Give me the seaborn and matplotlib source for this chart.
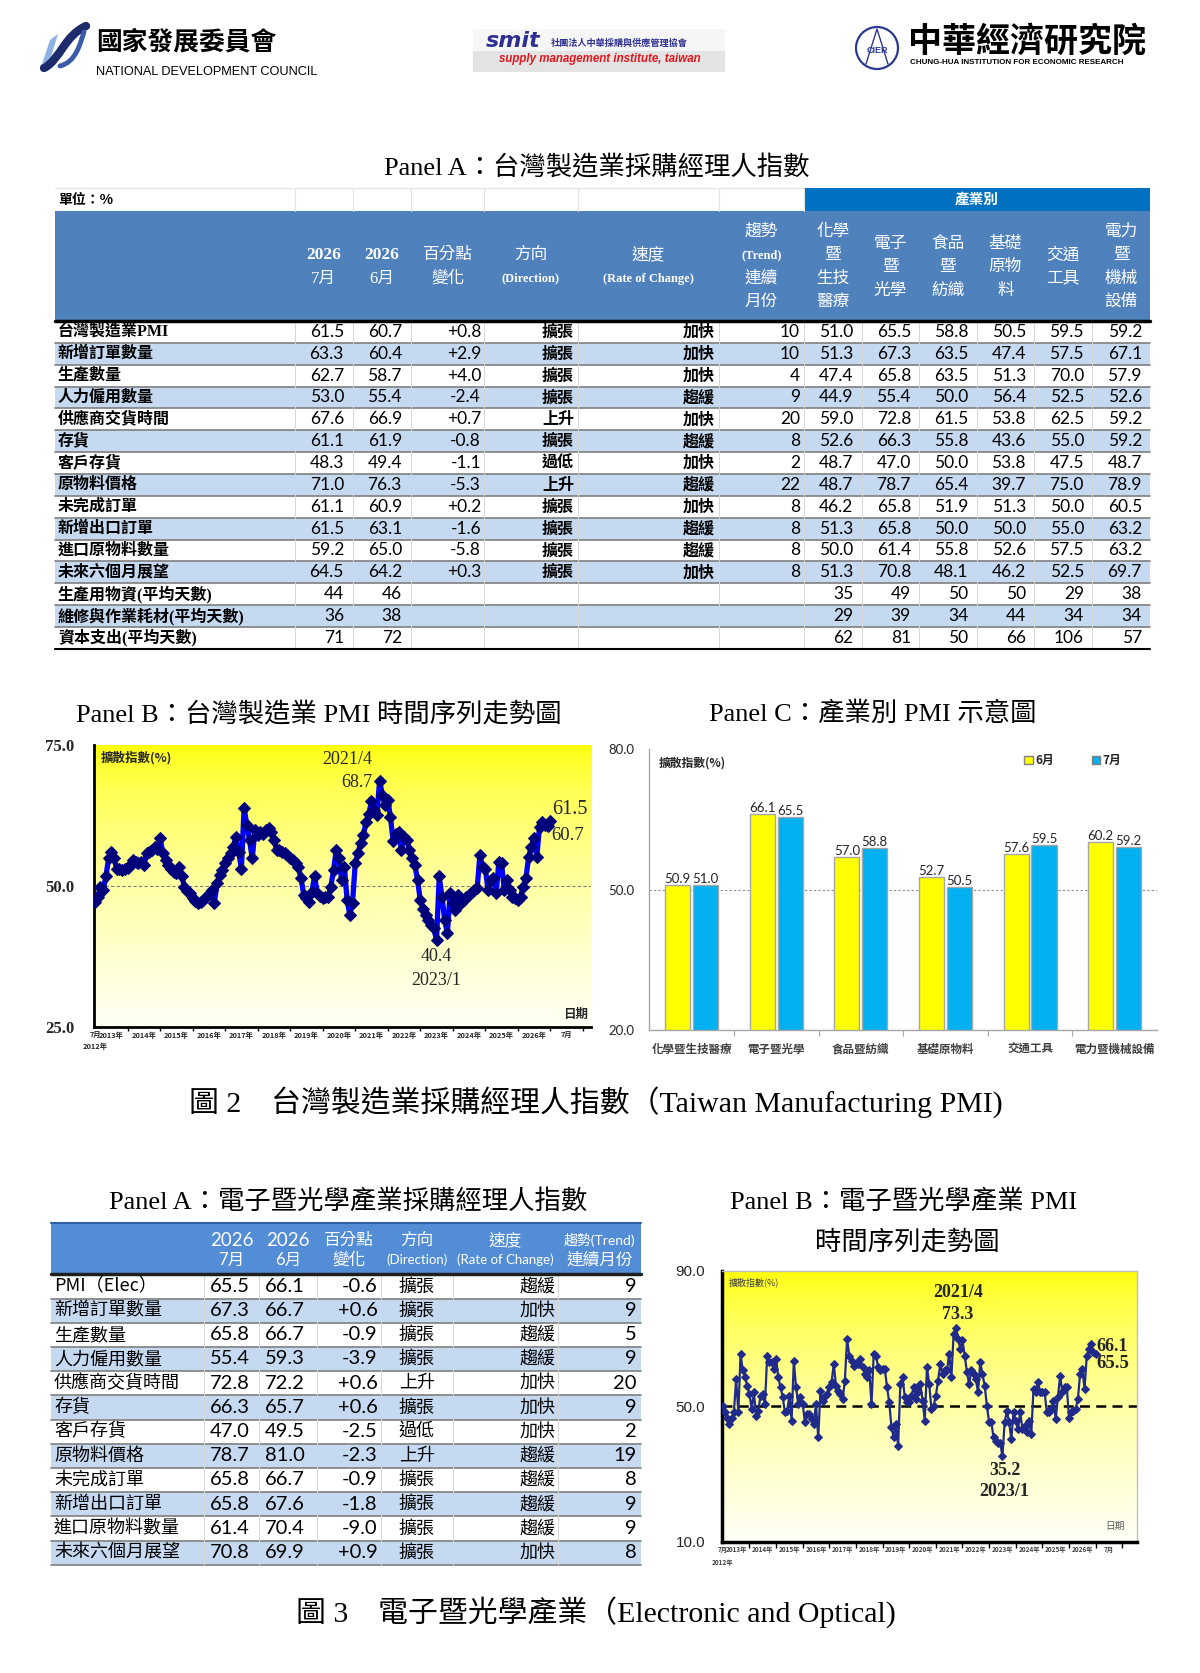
import numpy as np
import pandas as pd
import matplotlib
matplotlib.use("Agg")
import matplotlib.pyplot as plt
from matplotlib import patches
from matplotlib.path import Path
from matplotlib.transforms import blended_transform_factory
import seaborn as sns

sns.set_theme(style="white")
plt.rcParams["font.family"] = ["Noto Sans CJK TC", "DejaVu Sans"]
plt.rcParams["axes.unicode_minus"] = False

W, H = 1200, 1673
SANS = ["Noto Sans CJK TC", "DejaVu Sans"]
SERIF = ["Liberation Serif", "Noto Sans CJK TC"]
NUM = ["Lato", "Noto Sans CJK TC"]

# ── 表一：台灣製造業 PMI ─────────────────────────────────────────────
t1_items = ["台灣製造業PMI", "新增訂單數量", "生產數量", "人力僱用數量", "供應商交貨時間",
            "存貨", "客戶存貨", "原物料價格", "未完成訂單", "新增出口訂單",
            "進口原物料數量", "未來六個月展望", "生產用物資(平均天數)",
            "維修與作業耗材(平均天數)", "資本支出(平均天數)"]
t1_jul = [61.5, 63.3, 62.7, 53.0, 67.6, 61.1, 48.3, 71.0, 61.1, 61.5, 59.2, 64.5, 44, 36, 71]
t1_jun = [60.7, 60.4, 58.7, 55.4, 66.9, 61.9, 49.4, 76.3, 60.9, 63.1, 65.0, 64.2, 46, 38, 72]
t1_chg = ["+0.8", "+2.9", "+4.0", "-2.4", "+0.7", "-0.8", "-1.1", "-5.3", "+0.2", "-1.6",
          "-5.8", "+0.3", "", "", ""]
t1_dir = ["擴張", "擴張", "擴張", "擴張", "上升", "擴張", "過低", "上升", "擴張", "擴張",
          "擴張", "擴張", "", "", ""]
t1_speed = ["加快", "加快", "加快", "趨緩", "加快", "趨緩", "加快", "趨緩", "加快", "趨緩",
            "趨緩", "加快", "", "", ""]
t1_trend = ["10", "10", "4", "9", "20", "8", "2", "22", "8", "8", "8", "8", "", "", ""]
chem = [51.0, 51.3, 47.4, 44.9, 59.0, 52.6, 48.7, 48.7, 46.2, 51.3, 50.0, 51.3, 35, 29, 62]
elec = [65.5, 67.3, 65.8, 55.4, 72.8, 66.3, 47.0, 78.7, 65.8, 65.8, 61.4, 70.8, 49, 39, 81]
food = [58.8, 63.5, 63.5, 50.0, 61.5, 55.8, 50.0, 65.4, 51.9, 50.0, 55.8, 48.1, 50, 34, 50]
basic = [50.5, 47.4, 51.3, 56.4, 53.8, 43.6, 53.8, 39.7, 51.3, 50.0, 52.6, 46.2, 50, 44, 66]
trans = [59.5, 57.5, 70.0, 52.5, 62.5, 55.0, 47.5, 75.0, 50.0, 55.0, 57.5, 52.5, 29, 34, 106]
power = [59.2, 67.1, 57.9, 52.6, 59.2, 59.2, 48.7, 78.9, 60.5, 63.2, 63.2, 69.7, 38, 34, 57]
t1_head = [["2026", "7月"], ["2026", "6月"], ["百分點", "變化"], ["方向", "(Direction)"],
           ["速度", "(Rate of Change)"], ["趨勢", "(Trend)", "連續", "月份"],
           ["化學", "暨", "生技", "醫療"], ["電子", "暨", "光學"], ["食品", "暨", "紡織"],
           ["基礎", "原物", "料"], ["交通", "工具"], ["電力", "暨", "機械", "設備"]]

# ── 台灣製造業 PMI 月資料 (2012/7 ~ 2026/7) ──────────────────────────
twn_pmi = [
    47.1, 48.1, 49.9, 49.3, 51.7, 54.9, 56.1, 54.9, 53.1, 53.0, 52.8, 53.0,
    53.2, 53.7, 54.6, 54.3, 54.0, 54.2, 53.7, 55.8, 56.1, 56.4, 57.0, 56.5,
    58.5, 55.8, 54.6, 53.7, 53.0, 52.5, 52.3, 53.4, 51.7, 49.9, 49.2, 48.7,
    47.8, 47.4, 46.9, 47.2, 47.6, 48.1, 48.6, 49.3, 46.9, 50.5, 52.0, 52.8,
    54.0, 54.9, 55.8, 57.0, 58.7, 56.0, 53.1, 63.8, 60.8, 58.2, 54.9, 59.9,
    59.0, 59.5, 59.3, 60.0, 60.2, 59.6, 58.2, 56.4, 56.3, 56.1, 55.8, 55.5,
    55.0, 54.6, 54.0, 53.4, 51.4, 48.4, 47.8, 47.2, 49.0, 51.7, 48.7, 48.2,
    47.8, 48.1, 48.1, 49.9, 52.8, 56.4, 54.9, 51.0, 53.4, 47.5, 44.9, 46.9,
    54.0, 55.8, 57.6, 59.0, 61.4, 62.8, 65.0, 63.5, 62.6, 68.7, 66.1, 64.4,
    65.2, 62.3, 57.9, 59.3, 59.6, 56.4, 58.7, 58.2, 56.4, 55.0, 53.7, 51.1,
    47.5, 46.0, 44.9, 44.0, 43.1, 42.5, 40.4, 51.7, 48.1, 44.0, 41.6, 48.7,
    46.9, 45.7, 48.4, 46.9, 47.5, 48.1, 48.4, 48.9, 49.3, 49.6, 55.5, 53.4,
    53.1, 49.3, 51.1, 51.4, 48.7, 54.3, 54.0, 49.3, 51.1, 49.3, 48.1, 47.8,
    47.6, 48.1, 49.9, 51.4, 55.2, 57.0, 58.5, 55.2, 60.5, 61.4, 60.9, 60.7,
    61.5,
]

# ── 電子暨光學 PMI 月資料 (2012/7 ~ 2026/7) ───────────────────────────
ele_pmi = [
    50.0, 48.2, 46.7, 44.8, 46.7, 48.2, 58.1, 48.2, 65.5, 60.6, 58.6, 56.1,
    53.7, 49.2, 54.1, 47.2, 48.7, 53.2, 53.7, 50.7, 65.0, 63.0, 63.0, 61.1,
    64.0, 58.6, 55.6, 52.7, 48.2, 48.7, 53.2, 45.8, 63.5, 55.6, 50.7, 52.7,
    50.7, 45.3, 47.7, 47.7, 46.2, 44.8, 50.7, 40.8, 54.6, 51.7, 53.2, 53.7,
    55.6, 57.1, 62.5, 56.1, 54.6, 53.7, 52.2, 57.6, 70.0, 65.0, 63.5, 62.0,
    62.5, 62.5, 64.0, 61.6, 59.6, 58.6, 60.6, 50.7, 65.5, 65.0, 61.6, 60.6,
    61.1, 61.1, 55.6, 51.2, 43.8, 40.8, 44.8, 38.3, 56.6, 58.6, 52.7, 51.2,
    51.2, 53.2, 55.6, 52.2, 54.1, 56.6, 51.7, 45.8, 61.6, 56.6, 49.2, 50.2,
    53.2, 57.6, 62.5, 59.6, 60.6, 60.6, 65.5, 58.6, 71.4, 73.3, 70.0, 67.0,
    69.5, 65.0, 60.1, 56.6, 60.6, 59.6, 58.1, 54.1, 63.0, 59.6, 56.1, 50.2,
    45.3, 45.3, 40.8, 39.8, 39.3, 39.3, 35.2, 45.3, 48.7, 45.3, 40.3, 48.2,
    45.8, 43.3, 48.2, 43.3, 44.3, 42.3, 45.8, 41.8, 55.1, 54.1, 57.1, 54.1,
    54.1, 54.1, 48.2, 48.2, 49.2, 51.7, 46.2, 52.7, 59.1, 54.1, 55.6, 55.6,
    46.7, 48.2, 48.7, 49.2, 52.2, 59.6, 61.1, 55.1, 65.0, 67.0, 68.5, 66.1,
    65.5,
]
xtick_pos = [0, 6, 18, 30, 42, 54, 66, 78, 90, 102, 114, 126, 138, 150, 162, 174]
xtick_lab = ["7月", "2013年", "2014年", "2015年", "2016年", "2017年", "2018年", "2019年",
             "2020年", "2021年", "2022年", "2023年", "2024年", "2025年", "2026年", "7月"]
xminor_pos = [12, 24, 36, 48, 60, 72, 84, 96, 108, 120, 132, 144, 156, 168, 180]

# ── 產業別 PMI ───────────────────────────────────────────────────────
ind_names = ["化學暨生技醫療", "電子暨光學", "食品暨紡織", "基礎原物料", "交通工具", "電力暨機械設備"]
ind_jun = [50.9, 66.1, 57.0, 52.7, 57.6, 60.2]
ind_jul = [51.0, 65.5, 58.8, 50.5, 59.5, 59.2]

# ── 表二：電子暨光學產業 ─────────────────────────────────────────────
t2_items = ["PMI（Elec）", "新增訂單數量", "生產數量", "人力僱用數量", "供應商交貨時間", "存貨",
            "客戶存貨", "原物料價格", "未完成訂單", "新增出口訂單", "進口原物料數量", "未來六個月展望"]
t2_jul = [65.5, 67.3, 65.8, 55.4, 72.8, 66.3, 47.0, 78.7, 65.8, 65.8, 61.4, 70.8]
t2_jun = [66.1, 66.7, 66.7, 59.3, 72.2, 65.7, 49.5, 81.0, 66.7, 67.6, 70.4, 69.9]
t2_chg = ["-0.6", "+0.6", "-0.9", "-3.9", "+0.6", "+0.6", "-2.5", "-2.3", "-0.9", "-1.8", "-9.0", "+0.9"]
t2_dir = ["擴張", "擴張", "擴張", "擴張", "上升", "擴張", "過低", "上升", "擴張", "擴張", "擴張", "擴張"]
t2_speed = ["趨緩", "加快", "趨緩", "趨緩", "加快", "加快", "加快", "趨緩", "趨緩", "趨緩", "趨緩", "加快"]
t2_trend = ["9", "9", "5", "9", "20", "9", "2", "19", "8", "9", "9", "8"]
t2_head = [["2026", "7月"], ["2026", "6月"], ["百分點", "變化"], ["方向", "(Direction)"],
           ["速度", "(Rate of Change)"], ["趨勢(Trend)", "連續月份"]]

# ══════════════════════════════════════════════════════════════════════
fig = plt.figure(figsize=(W / 100, H / 100), dpi=100)
bg = fig.add_axes([0, 0, 1, 1], zorder=0)
bg.set_xlim(0, W)
bg.set_ylim(H, 0)
bg.axis("off")


def txt(x, y, s, size, ha="center", va="center", family=SANS, weight="normal",
        color="black", style="normal"):
    bg.text(x, y, s, fontsize=size, ha=ha, va=va, family=family, weight=weight,
            color=color, style=style)


def fmt(v):
    return f"{v:.1f}" if isinstance(v, float) else str(v)


# ── 標誌列 ───────────────────────────────────────────────────────────
bg.add_patch(patches.Polygon([(42, 64), (50, 40), (58, 34), (50, 60)], fc="#8DB3E2", ec="none"))
bg.add_patch(patches.PathPatch(Path([(44, 68), (60, 60), (64, 36), (86, 26)],
                                    [Path.MOVETO, Path.CURVE4, Path.CURVE4, Path.CURVE4]),
                               fc="none", ec="#1C2B6B", lw=6, capstyle="round"))
bg.add_patch(patches.PathPatch(Path([(60, 66), (76, 62), (80, 44), (84, 32)],
                                    [Path.MOVETO, Path.CURVE4, Path.CURVE4, Path.CURVE4]),
                               fc="none", ec="#3A5BA8", lw=3.5, capstyle="round"))
txt(96, 42, "國家發展委員會", 18.5, ha="left", weight="bold")
txt(96, 72, "NATIONAL DEVELOPMENT COUNCIL", 9.2, ha="left", family=["Liberation Sans"])

bg.add_patch(patches.Rectangle((473, 29), 252, 22, fc="#F6F6F6", ec="none"))
bg.add_patch(patches.Rectangle((473, 51), 252, 21, fc="#E3E3E3", ec="none"))
txt(486, 41, "smit", 16, ha="left", family=["DejaVu Sans"], weight="bold", style="italic",
    color="#2E3192")
txt(551, 43, "社團法人中華採購與供應管理協會", 6.6, ha="left", weight="bold", color="#2E3192")
txt(600, 59, "supply management institute, taiwan", 8.3, family=["Liberation Sans"],
    weight="bold", style="italic", color="#E4161C")

bg.add_patch(patches.Circle((877, 48), 21, fill=False, ec="#2B3990", lw=1.6))
bg.plot([866, 877, 888], [64, 29, 64], color="#2B3990", lw=1.0)
txt(877, 50, "CIER", 6.5, family=["Liberation Sans"], weight="bold", color="#2B3990")
txt(908, 41, "中華經濟研究院", 24.5, ha="left", weight="bold")
txt(910, 62, "CHUNG-HUA INSTITUTION FOR ECONOMIC RESEARCH", 5.8, ha="left",
    family=["Liberation Sans"], weight="bold")

# ── 標題 ─────────────────────────────────────────────────────────────
txt(597, 168, "Panel A：台灣製造業採購經理人指數", 19, family=SERIF)
txt(319, 714, "Panel B：台灣製造業 PMI 時間序列走勢圖", 19, family=SERIF)
txt(873, 714, "Panel C：產業別 PMI 示意圖", 19, family=SERIF)
txt(596, 1102, "圖 2　台灣製造業採購經理人指數（Taiwan Manufacturing PMI)", 21.5, family=SERIF)
txt(348, 1202, "Panel A：電子暨光學產業採購經理人指數", 19, family=SERIF)
txt(904, 1202, "Panel B：電子暨光學產業 PMI", 19, family=SERIF)
txt(907, 1242, "時間序列走勢圖", 19, family=SERIF)
txt(596, 1612, "圖 3　電子暨光學產業（Electronic and Optical)", 21.5, family=SERIF)

# ── 表一 ─────────────────────────────────────────────────────────────
X1 = [55, 294.5, 353, 411, 484, 578, 719, 804, 861.5, 919, 976.5, 1034, 1092, 1150]
R1_TOP, R1_H = 321, 21.85
bg.plot([X1[0], X1[7]], [188, 188], color="#E3E3E3", lw=0.8)
for xx in X1[1:8]:
    bg.plot([xx, xx], [188, 211], color="#E3E3E3", lw=0.8)
bg.add_patch(patches.Rectangle((X1[7], 188), X1[-1] - X1[7], 23, fc="#0070C0", ec="none"))
txt((X1[7] + X1[-1]) / 2, 199.5, "產業別", 10.5, color="white", weight="bold")
txt(X1[0] + 3, 199.5, "單位：%", 10, ha="left", weight="bold")
bg.add_patch(patches.Rectangle((X1[0], 211), X1[-1] - X1[0], R1_TOP - 211, fc="#4F81BD", ec="none"))

for c, lines in enumerate(t1_head):
    cx = (X1[c + 1] + X1[c + 2]) / 2
    n = len(lines)
    for k, s in enumerate(lines):
        cy = 267 + (k - (n - 1) / 2) * 23.5
        if s.startswith("("):
            txt(cx, cy, s, 9, family=SERIF, weight="bold", color="white")
        elif s.isdigit():
            txt(cx, cy, s, 12.5, family=SERIF, weight="bold", color="white")
        else:
            txt(cx, cy, s, 12, family=SERIF, color="white")

ind_cols = [chem, elec, food, basic, trans, power]
for r, item in enumerate(t1_items):
    y0 = R1_TOP + r * R1_H
    yc = y0 + R1_H / 2
    if r % 2 == 1:
        bg.add_patch(patches.Rectangle((X1[0], y0), X1[-1] - X1[0], R1_H, fc="#C5D9F1", ec="none"))
    txt(X1[0] + 3, yc, item, 11.5, ha="left", family=SERIF, weight="bold")
    txt(X1[2] - 9, yc, fmt(t1_jul[r]), 12.5, ha="right", family=NUM)
    txt(X1[3] - 9, yc, fmt(t1_jun[r]), 12.5, ha="right", family=NUM)
    txt(X1[4] - 3, yc, t1_chg[r], 12.5, ha="right", family=NUM)
    txt(X1[5] - 4, yc, t1_dir[r], 11.5, ha="right", weight="bold")
    txt(X1[6] - 4, yc, t1_speed[r], 11.5, ha="right", weight="bold")
    txt(X1[7] - 4, yc, t1_trend[r], 12.5, ha="right", family=NUM)
    for j, col in enumerate(ind_cols):
        txt(X1[8 + j] - 8, yc, fmt(col[r]), 12.5, ha="right", family=NUM)
    bg.plot([X1[0], X1[-1]], [y0 + R1_H, y0 + R1_H], color="#7F7F7F", lw=1.2)
R1_BOT = R1_TOP + len(t1_items) * R1_H
for xx in X1[1:-1]:
    bg.plot([xx, xx], [R1_TOP, R1_BOT], color="#D6D6D6", lw=0.7)
bg.plot([X1[0], X1[-1]], [R1_TOP, R1_TOP], color="black", lw=2.5)
bg.plot([X1[0], X1[-1]], [R1_BOT, R1_BOT], color="black", lw=1.5)

# ── 表二 ─────────────────────────────────────────────────────────────
X2 = [51, 204, 259.4, 316.7, 380.7, 453, 557.8, 640.8]
R2_TOP, R2_H = 1274.3, 24.2
bg.add_patch(patches.Rectangle((X2[0], 1222.7), X2[-1] - X2[0], R2_TOP - 1222.7,
                               fc="#538DD5", ec="none"))
bg.plot([X2[0], X2[-1]], [1222.7, 1222.7], color="#2F5F9F", lw=1.5)
for c, lines in enumerate(t2_head):
    cx = (X2[c + 1] + X2[c + 2]) / 2
    for k, s in enumerate(lines):
        cy = 1240 + k * 20
        if s.startswith("("):
            txt(cx, cy, s, 9.5, family=NUM, color="white")
        elif s.isdigit():
            txt(cx, cy, s, 13.5, family=NUM, color="white")
        elif "(" in s:
            txt(cx, cy, s, 10, family=NUM, color="white")
        else:
            txt(cx, cy, s, 12, family=NUM, color="white")

for r, item in enumerate(t2_items):
    y0 = R2_TOP + r * R2_H
    yc = y0 + R2_H / 2
    if r % 2 == 1:
        bg.add_patch(patches.Rectangle((X2[0], y0), X2[-1] - X2[0], R2_H, fc="#C5D9F1", ec="none"))
    txt(X2[0] + 3, yc, item, 13, ha="left")
    txt(X2[2] - 10, yc, fmt(t2_jul[r]), 14.5, ha="right", family=NUM)
    txt(X2[3] - 12, yc, fmt(t2_jun[r]), 14.5, ha="right", family=NUM)
    txt(X2[4] - 3, yc, t2_chg[r], 14.5, ha="right", family=NUM)
    txt((X2[4] + X2[5]) / 2, yc, t2_dir[r], 13)
    txt(X2[6] - 2, yc, t2_speed[r], 13, ha="right")
    txt(X2[7] - 4, yc, t2_trend[r], 14.5, ha="right", family=NUM)
    bg.plot([X2[0], X2[-1]], [y0 + R2_H, y0 + R2_H], color="#7F7F7F", lw=1.2)
R2_BOT = R2_TOP + len(t2_items) * R2_H
for xx in X2[1:-1]:
    bg.plot([xx, xx], [R2_TOP, R2_BOT], color="#D6D6D6", lw=0.7)
bg.plot([X2[0], X2[-1]], [R2_TOP, R2_TOP], color="#1F1F1F", lw=2.5)


# ── 共用：黃色漸層底 ─────────────────────────────────────────────────
def yellow_bg(ax):
    t = np.linspace(0, 1, 256) ** 0.6
    img = np.ones((256, 1, 3))
    img[:, 0, 2] = t[::-1] * 0.97
    ax.imshow(img, extent=[0, 1, 0, 1], transform=ax.transAxes, aspect="auto",
              origin="lower", zorder=0)


# ── Panel B：台灣製造業 PMI 走勢 ─────────────────────────────────────
axB = fig.add_axes([93.7 / W, 1 - 1027 / H, (591 - 93.7) / W, 282 / H], zorder=1)
yellow_bg(axB)
df_twn = pd.DataFrame({"month": np.arange(len(twn_pmi)), "pmi": twn_pmi})
axB.axhline(50, color="#7F7F7F", lw=0.8, ls=(0, (3, 2)), zorder=1)
sns.lineplot(data=df_twn, x="month", y="pmi", ax=axB, color="#0000FF", linewidth=3.8,
             marker="D", markersize=6, markerfacecolor="#00007A", markeredgecolor="#00007A",
             zorder=3)
axB.set_xlim(-0.5, 183)
axB.set_ylim(25, 75)
axB.set_xlabel("")
axB.set_ylabel("")
axB.set_yticks([25, 50, 75])
axB.set_yticklabels(["25.0", "50.0", "75.0"], family=SERIF, weight="bold", fontsize=12)
axB.tick_params(axis="y", length=0, pad=14)
axB.set_xticks(xtick_pos)
axB.set_xticklabels(xtick_lab, fontsize=5.3, weight="bold")
axB.set_xticks(xminor_pos, minor=True)
axB.tick_params(axis="x", which="major", length=0, pad=3)
axB.tick_params(axis="x", which="minor", bottom=True, length=3, width=1, color="black")
for s in ["top", "right"]:
    axB.spines[s].set_visible(False)
for s in ["left", "bottom"]:
    axB.spines[s].set_color("black")
    axB.spines[s].set_linewidth(2)
trB = blended_transform_factory(axB.transData, axB.transAxes)
axB.text(0, -0.07, "2012年", transform=trB, fontsize=5.3, weight="bold", ha="center", va="center")
axB.text(0.0135, 0.956, "擴散指數(%)", transform=axB.transAxes, fontsize=9, weight="bold",
         ha="left", va="center")
axB.text(0.968, 0.043, "日期", transform=axB.transAxes, fontsize=9, weight="bold",
         ha="center", va="center")
axB.text(93.2, 72.5, "2021/4", family=SERIF, fontsize=13, ha="center", va="center")
axB.text(96.5, 68.3, "68.7", family=SERIF, fontsize=13, ha="center", va="center")
axB.text(125.9, 37.5, "40.4", family=SERIF, fontsize=13, ha="center", va="center")
axB.text(125.9, 33.3, "2023/1", family=SERIF, fontsize=13, ha="center", va="center")
axB.text(168.7, 63.5, "61.5", family=SERIF, fontsize=14.5, ha="left", va="center")
axB.text(168.2, 59.0, "60.7", family=SERIF, fontsize=13.5, ha="left", va="center")

# ── Panel C：產業別 PMI ──────────────────────────────────────────────
axC = fig.add_axes([649.3 / W, 1 - 1030 / H, (1157 - 649.3) / W, 280.7 / H], zorder=1)
df_ind = pd.DataFrame({"產業": ind_names * 2,
                       "月份": ["6月"] * len(ind_names) + ["7月"] * len(ind_names),
                       "PMI": ind_jun + ind_jul})
axC.axhline(50, color="#8C8C8C", lw=0.8, ls=(0, (2, 2)), zorder=0.5)
sns.barplot(data=df_ind, x="產業", y="PMI", hue="月份", order=ind_names, hue_order=["6月", "7月"],
            palette={"6月": "#FFFF00", "7月": "#00B0F0"}, saturation=1, width=0.66, gap=0.1,
            edgecolor="#A6A6A6", linewidth=1, errorbar=None, legend=False, ax=axC, zorder=2)
for cont in axC.containers:
    axC.bar_label(cont, fmt="%.1f", padding=0, fontsize=9.5, family=NUM)
axC.set_ylim(20, 80)
axC.set_xlim(-0.5, 5.5)
axC.set_xlabel("")
axC.set_ylabel("")
axC.set_yticks([20, 50, 80])
axC.set_yticklabels(["20.0", "50.0", "80.0"], family=NUM, fontsize=9.5, color="#262626")
axC.tick_params(axis="y", length=0, pad=11)
axC.set_xticks(range(len(ind_names)))
axC.set_xticklabels(ind_names, fontsize=8.3, weight="bold", color="#404040")
axC.set_xticks([0.5, 1.5, 2.5, 3.5, 4.5], minor=True)
axC.tick_params(axis="x", which="major", length=0, pad=9)
axC.tick_params(axis="x", which="minor", bottom=True, length=4, width=0.8, color="#A6A6A6")
for s in ["top", "right"]:
    axC.spines[s].set_visible(False)
for s in ["left", "bottom"]:
    axC.spines[s].set_color("#A6A6A6")
    axC.spines[s].set_linewidth(1)
axC.text(0.019, 0.951, "擴散指數(%)", transform=axC.transAxes, fontsize=8.5, weight="bold",
         ha="left", va="center", color="#262626")
axC.legend(handles=[patches.Patch(fc="#FFFF00", ec="#808080"), patches.Patch(fc="#00B0F0", ec="#808080")],
           labels=["6月", "7月"], ncol=2, loc="upper right", bbox_to_anchor=(0.95, 1.02),
           frameon=False, handlelength=0.7, handleheight=0.7, handletextpad=0.2,
           columnspacing=3.2, prop=dict(family=SANS, size=8.5, weight="bold"))

# ── 圖三 Panel B：電子暨光學 PMI 走勢 ────────────────────────────────
axE = fig.add_axes([721.7 / W, 1 - 1541.7 / H, 415 / W, 270.7 / H], zorder=1)
yellow_bg(axE)
df_ele = pd.DataFrame({"month": np.arange(len(ele_pmi)), "pmi": ele_pmi})
axE.axhline(50, color="black", lw=1.8, ls=(0, (4, 2.5)), zorder=1)
sns.lineplot(data=df_ele, x="month", y="pmi", ax=axE, color="#1F2A8A", linewidth=1.6,
             marker="D", markersize=4.5, markerfacecolor="#1F2A8A", markeredgecolor="#1F2A8A",
             zorder=3)
axE.set_xlim(-0.5, 186.5)
axE.set_ylim(10, 90)
axE.set_xlabel("")
axE.set_ylabel("")
axE.set_yticks([10, 50, 90])
axE.set_yticklabels(["10.0", "50.0", "90.0"], family=["Liberation Sans"], fontsize=11,
                    color="#262626")
axE.tick_params(axis="y", length=0, pad=12)
axE.set_xticks(xtick_pos)
axE.set_xticklabels(xtick_lab, fontsize=4.6, weight="bold", color="#404040")
axE.set_xticks(xminor_pos, minor=True)
axE.tick_params(axis="x", which="major", length=0, pad=3)
axE.tick_params(axis="x", which="minor", bottom=True, length=4, width=1, color="black")
for s in ["top", "right"]:
    axE.spines[s].set_color("#BFBFBF")
    axE.spines[s].set_linewidth(1)
for s in ["left", "bottom"]:
    axE.spines[s].set_color("black")
    axE.spines[s].set_linewidth(2.5)
trE = blended_transform_factory(axE.transData, axE.transAxes)
axE.text(0, -0.077, "2012年", transform=trE, fontsize=4.6, weight="bold", ha="center",
         va="center", color="#404040")
axE.text(0.018, 0.958, "擴散指數(%)", transform=axE.transAxes, fontsize=6.5, ha="left",
         va="center", color="#404040")
axE.text(0.948, 0.058, "日期", transform=axE.transAxes, fontsize=7, ha="center",
         va="center", color="#595959")
axE.text(106, 83.6, "2021/4", family=SERIF, weight="bold", fontsize=13, ha="center", va="center")
axE.text(106, 77.0, "73.3", family=SERIF, weight="bold", fontsize=13, ha="center", va="center")
axE.text(127, 30.9, "35.2", family=SERIF, weight="bold", fontsize=13, ha="center", va="center")
axE.text(127, 24.9, "2023/1", family=SERIF, weight="bold", fontsize=13, ha="center", va="center")
axE.text(168.5, 67.8, "66.1", family=SERIF, weight="bold", fontsize=13, ha="left", va="center")
axE.text(168.5, 62.8, "65.5", family=SERIF, weight="bold", fontsize=13.5, ha="left", va="center")

fig.savefig("out.png", dpi=100)
